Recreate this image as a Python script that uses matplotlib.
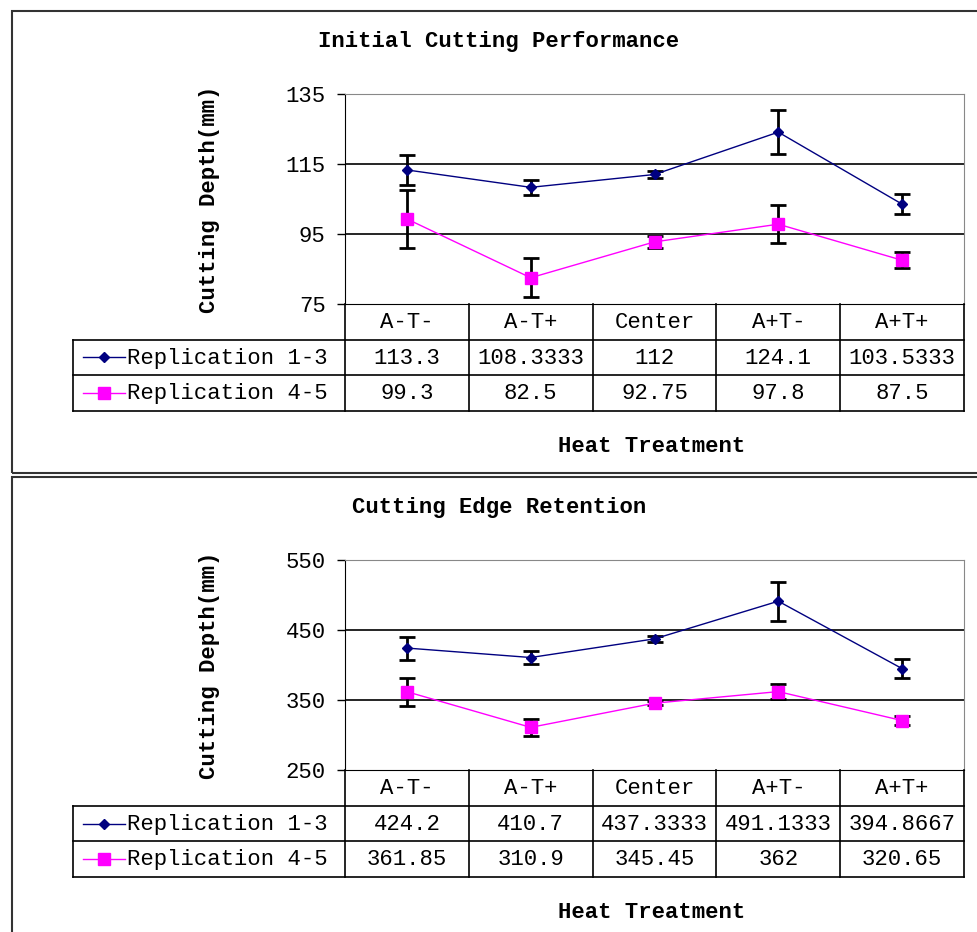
import matplotlib
matplotlib.use('Agg')
import matplotlib.pyplot as plt
from matplotlib.patches import Rectangle

plt.rcParams['font.family'] = ['Liberation Mono', 'DejaVu Sans Mono']
plt.rcParams['font.size'] = 16

W, H = 978, 932

categories = ['A-T-', 'A-T+', 'Center', 'A+T-', 'A+T+']
series_names = ['Replication 1-3', 'Replication 4-5']

# Initial cutting performance
init_rep13 = [113.3, 108.3333, 112, 124.1, 103.5333]
init_rep45 = [99.3, 82.5, 92.75, 97.8, 87.5]
init_err13 = [4.3, 2.1, 1.0, 6.2, 2.9]
init_err45 = [8.3, 5.6, 1.8, 5.4, 2.3]

# Cutting edge retention
edge_rep13 = [424.2, 410.7, 437.3333, 491.1333, 394.8667]
edge_rep45 = [361.85, 310.9, 345.45, 362, 320.65]
edge_err13 = [16.5, 9.0, 4.5, 28.0, 13.0]
edge_err45 = [20.0, 12.0, 3.0, 11.0, 6.0]

colors = ['#000080', '#ff00ff']
markers = ['D', 's']
msizes = [5, 8]

# plot area in pixels
PX_L, PX_R = 345, 964
CAT_W = (PX_R - PX_L) / len(categories)
TBL_L = 73


def box(x0, y0, x1, y1):
    return [x0 / W, 1 - y1 / H, (x1 - x0) / W, (y1 - y0) / H]


def px2x(px):
    return -0.5 + (px - PX_L) / CAT_W


def fmt(v):
    return f'{v:.4f}'.rstrip('0').rstrip('.')


def draw_panel(dy, border, title, ylim, yticks, rep13, rep45, err13, err45):
    fig.patches.append(Rectangle((12 / W, 1 - border[1] / H), (W + 20) / W,
                                 (border[1] - border[0]) / H, transform=fig.transFigure,
                                 fill=False, edgecolor='#333333', lw=1.5))
    fig.text(499 / W, 1 - (42 + dy) / H, title, ha='center', va='center',
             fontweight='bold', fontsize=16)

    ax = fig.add_axes(box(PX_L, 94 + dy, PX_R, 304 + dy))
    x = list(range(len(categories)))
    for vals, errs, c, m, ms in zip([rep13, rep45], [err13, err45], colors, markers, msizes):
        ax.errorbar(x, vals, yerr=errs, color=c, marker=m, ms=ms, lw=1,
                    ecolor='black', elinewidth=2, capsize=6, capthick=2, zorder=3)
    ax.set_xlim(-0.5, len(categories) - 0.5)
    ax.set_ylim(*ylim)
    ax.set_yticks(yticks)
    for t in yticks[1:-1]:
        ax.axhline(t, color='black', lw=1.2, zorder=1)
    ax.set_xticks([])
    ax.tick_params(axis='y', direction='out', length=6, width=1, labelsize=16, pad=8)
    for s in ['top', 'right']:
        ax.spines[s].set_color('#888888')
    ax.spines['left'].set_color('black')
    ax.spines['bottom'].set_color('black')
    ax.set_ylabel('Cutting Depth(mm)', fontweight='bold', fontsize=16)
    ax.yaxis.set_label_coords((220 - PX_L) / (PX_R - PX_L), 0.5)

    # data table below the plot
    tax = fig.add_axes(box(TBL_L, 304 + dy, PX_R, 411 + dy))
    tax.set_xlim(px2x(TBL_L), len(categories) - 0.5)
    tax.set_ylim(3, 0)
    tax.axis('off')
    xl = px2x(TBL_L)
    kw = dict(color='black', lw=1.2, clip_on=False)
    for yy in [1, 2, 3]:
        tax.plot([xl, 4.5], [yy, yy], **kw)
    tax.plot([xl, xl], [1, 3], **kw)
    for xx in [-0.5, 0.5, 1.5, 2.5, 3.5, 4.5]:
        tax.plot([xx, xx], [0, 3], **kw)
    for i, cat in enumerate(categories):
        tax.text(i, 0.52, cat, ha='center', va='center', fontsize=16)
    for r, (vals, name, c, m, ms) in enumerate(zip([rep13, rep45], series_names, colors, markers, msizes)):
        yy = 1.5 + r
        for i, v in enumerate(vals):
            tax.text(i, yy + 0.02, fmt(v), ha='center', va='center', fontsize=16)
        tax.plot([px2x(83), px2x(125)], [yy, yy], color=c, lw=1, clip_on=False)
        tax.plot([px2x(104)], [yy], color=c, marker=m, ms=ms, clip_on=False)
        tax.text(px2x(127), yy + 0.02, name, ha='left', va='center', fontsize=16)

    fig.text(652 / W, 1 - (447 + dy) / H, 'Heat Treatment', ha='center', va='center',
             fontweight='bold', fontsize=16)


fig = plt.figure(figsize=(W / 100, H / 100), dpi=100)

draw_panel(0, (11, 473), 'Initial Cutting Performance', (75, 135), [75, 95, 115, 135],
           init_rep13, init_rep45, init_err13, init_err45)
draw_panel(466, (477, 950), 'Cutting Edge Retention', (250, 550), [250, 350, 450, 550],
           edge_rep13, edge_rep45, edge_err13, edge_err45)

fig.savefig('out.png', dpi=100)
